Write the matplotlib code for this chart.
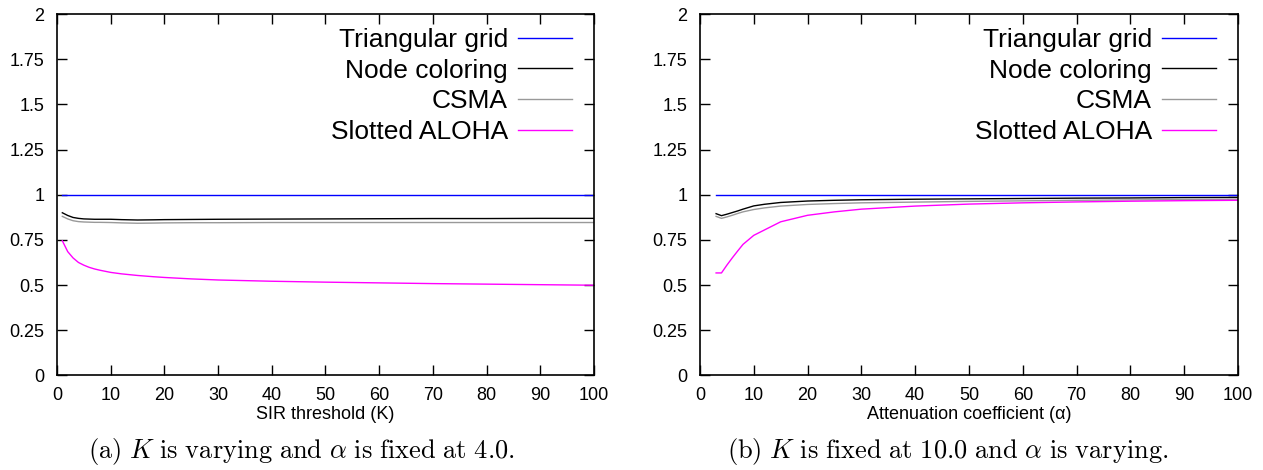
import matplotlib
matplotlib.use("Agg")
import matplotlib.pyplot as plt

plt.rcParams['font.family'] = ['Liberation Sans', 'DejaVu Sans']
plt.rcParams['mathtext.fontset'] = 'cm'

# (a) K varying, alpha = 4.0
k_vals = [1, 2, 3, 4, 5, 6, 7, 8, 10, 12, 15, 18, 20, 25, 30, 40, 50, 60, 70, 80, 90, 100]
k_grid = [1.0] * len(k_vals)
k_node = [0.900, 0.885, 0.874, 0.869, 0.866, 0.865, 0.864, 0.864, 0.864, 0.862, 0.860, 0.861, 0.862, 0.863, 0.864, 0.865, 0.866, 0.867, 0.868, 0.868, 0.869, 0.869]
k_csma = [0.880, 0.866, 0.856, 0.851, 0.849, 0.848, 0.847, 0.847, 0.846, 0.844, 0.842, 0.843, 0.844, 0.845, 0.845, 0.846, 0.846, 0.846, 0.846, 0.846, 0.846, 0.846]
k_aloha = [0.745, 0.685, 0.650, 0.625, 0.610, 0.598, 0.589, 0.582, 0.570, 0.562, 0.553, 0.546, 0.542, 0.534, 0.528, 0.521, 0.516, 0.512, 0.508, 0.505, 0.502, 0.499]

# (b) K = 10.0, alpha varying
a_vals = [3, 4, 5, 6, 7, 8, 10, 12, 15, 20, 25, 30, 40, 50, 60, 70, 80, 90, 100]
a_grid = [1.0] * len(a_vals)
a_node = [0.895, 0.884, 0.892, 0.901, 0.910, 0.920, 0.938, 0.947, 0.957, 0.965, 0.969, 0.972, 0.975, 0.977, 0.979, 0.981, 0.982, 0.984, 0.985]
a_csma = [0.880, 0.869, 0.877, 0.886, 0.896, 0.905, 0.918, 0.927, 0.937, 0.946, 0.951, 0.955, 0.959, 0.963, 0.966, 0.969, 0.971, 0.973, 0.975]
a_aloha = [0.567, 0.567, 0.610, 0.650, 0.688, 0.725, 0.775, 0.805, 0.850, 0.886, 0.905, 0.920, 0.937, 0.948, 0.955, 0.960, 0.964, 0.967, 0.969]

labels = ["Triangular grid", "Node coloring", "CSMA", "Slotted ALOHA"]
colors = ["#0000ff", "#000000", "#999999", "#ff00ff"]

yticks = [0, 0.25, 0.5, 0.75, 1, 1.25, 1.5, 1.75, 2]
ytick_labels = ["0", "0.25", "0.5", "0.75", "1", "1.25", "1.5", "1.75", "2"]
xticks = list(range(0, 101, 10))

fig = plt.figure(figsize=(12.63, 4.70), dpi=100)
ax1 = fig.add_axes([0.0451, 0.2013, 0.4252, 0.7689])
ax2 = fig.add_axes([0.5542, 0.2013, 0.4260, 0.7689])

panels = [
    (ax1, k_vals, [k_grid, k_node, k_csma, k_aloha], "SIR threshold (K)",
     r"$\mathrm{(a)}\ K\ \mathrm{is\ varying\ and}\ \alpha\ \mathrm{is\ fixed\ at\ 4.0.}$", 0.2383),
    (ax2, a_vals, [a_grid, a_node, a_csma, a_aloha], "Attenuation coefficient (\u03b1)",
     r"$\mathrm{(b)}\ K\ \mathrm{is\ fixed\ at\ 10.0\ and}\ \alpha\ \mathrm{is\ varying.}$", 0.7506),
]

for ax, xs, series, xlabel, caption, cx in panels:
    for ys, lab, col in zip(series, labels, colors):
        ax.plot(xs, ys, color=col, lw=1.0, label=lab)
    ax.set_xlim(0, 100)
    ax.set_ylim(0, 2)
    ax.set_xticks(xticks)
    ax.set_yticks(yticks)
    ax.set_yticklabels(ytick_labels)
    ax.tick_params(direction='in', length=7, width=1, top=True, right=True,
                   labelsize=13)
    ax.tick_params(axis='y', pad=9)
    ax.tick_params(axis='x', pad=8)
    for s in ax.spines.values():
        s.set_linewidth(1.2)
    ax.set_xlabel(xlabel, fontsize=13, labelpad=2)
    leg = ax.legend(loc='upper right', bbox_to_anchor=(0.959, 0.962),
                    frameon=False, markerfirst=False,
                    fontsize=19, handlelength=2.05, handletextpad=0.38,
                    labelspacing=0.26, borderaxespad=0, borderpad=0)
    for t in leg.get_texts():
        t.set_ha('right')
    fig.text(cx, 0.040, caption, ha='center', va='center', fontsize=19)

fig.savefig("out.png", dpi=100)
